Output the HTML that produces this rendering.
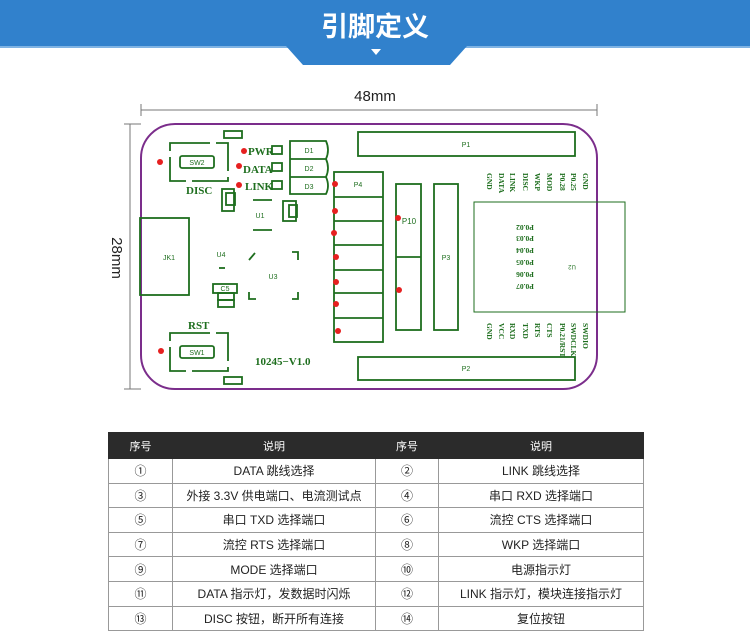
<!DOCTYPE html>
<html><head><meta charset="utf-8"><style>
body{margin:0;width:750px;height:639px;background:#fff;overflow:hidden;font-family:"Liberation Sans","Noto Sans CJK SC",sans-serif}
table{position:absolute;left:108px;top:432px;border-collapse:collapse;font-size:12px;color:#222}
td,th{border:1px solid #999;text-align:center;padding:0;height:23.6px}
th{background:#2b2b2b;color:#fff;font-weight:normal;font-size:11px;height:25px;border-color:#2b2b2b}
</style></head><body>
<svg width="750" height="430" style="position:absolute;left:0;top:0" font-family="Liberation Serif,serif">
<rect x="0" y="0" width="750" height="47" fill="#3181cc"/>
<rect x="0" y="46" width="750" height="2" fill="#7fb3e3"/>
<polygon points="286,46 467,46 450,65 303,65" fill="#3181cc"/>
<text x="375" y="36" text-anchor="middle" fill="#fff" font-size="27" font-weight="bold" font-family="Liberation Sans,Noto Sans CJK SC,sans-serif">引脚定义</text>
<polygon points="371,49 381,49 376,55" fill="#fff"/>
<text x="375" y="101" text-anchor="middle" font-size="15" font-family="Liberation Sans,sans-serif" fill="#222">48mm</text>
<g stroke="#777" stroke-width="1" fill="none">
<line x1="141" y1="110" x2="597" y2="110"/><line x1="141" y1="104" x2="141" y2="116"/><line x1="597" y1="104" x2="597" y2="116"/>
<line x1="130" y1="124" x2="130" y2="389"/><line x1="124" y1="124" x2="141" y2="124"/><line x1="124" y1="389" x2="141" y2="389"/>
</g>
<text transform="translate(112,258) rotate(90)" text-anchor="middle" font-size="15" font-family="Liberation Sans,sans-serif" fill="#222">28mm</text>
<rect x="141" y="124" width="456" height="265" rx="34" fill="none" stroke="#7b2d8b" stroke-width="2"/>
<g stroke="#1e6e1e" stroke-width="1.8" fill="none">
<rect x="224" y="131" width="18" height="7"/><rect x="224" y="377" width="18" height="7"/>
<path d="M170 143 H228 V181 H170 Z" stroke-dasharray="40 6"/>
<rect x="180" y="156" width="34" height="12" rx="2"/>
<path d="M170 333 H228 V371 H170 Z" stroke-dasharray="40 6"/>
<rect x="180" y="346" width="34" height="12" rx="2"/>
<rect x="272" y="146" width="10" height="8"/><rect x="272" y="163" width="10" height="8"/><rect x="272" y="181" width="10" height="8"/>
<path d="M290 141 H326 Q330 150 326 159 H290 Z M290 159 H326 Q330 168 326 177 H290 Z M290 177 H326 Q330 186 326 194 H290 Z"/>
<rect x="222" y="189" width="12" height="22"/><rect x="226" y="193" width="9" height="12"/>
<line x1="253" y1="200" x2="272" y2="200"/><line x1="253" y1="230" x2="272" y2="230"/>
<rect x="283" y="201" width="13" height="20"/><rect x="289" y="205" width="8" height="12"/>
<rect x="140" y="218" width="49" height="77"/>
<line x1="219" y1="268" x2="225" y2="268"/>
<path d="M249 260 L255 253 M292 252 H298 V260 M249 292 V299 H256 M292 299 H298 V292"/>
<rect x="213" y="284" width="24" height="9"/><rect x="218" y="293" width="16" height="7"/><rect x="218" y="300" width="16" height="7"/>
<rect x="334" y="172" width="49" height="170"/>
<path d="M334 197 H383 M334 221 H383 M334 245 H383 M334 270 H383 M334 293 H383 M334 318 H383"/>
<rect x="396" y="184" width="25" height="146"/><line x1="396" y1="257" x2="421" y2="257"/>
<rect x="434" y="184" width="24" height="146"/>
<rect x="358" y="132" width="217" height="24"/><rect x="358" y="357" width="217" height="23"/>
<rect x="474" y="202" width="151" height="110" stroke-width="1"/>
</g>
<g fill="#1e6e1e" font-size="7" font-family="Liberation Sans,sans-serif" text-anchor="middle">
<text x="197" y="165">SW2</text><text x="197" y="355">SW1</text><text x="169" y="260">JK1</text>
<text x="260" y="218">U1</text><text x="221" y="257">U4</text><text x="273" y="279">U3</text><text x="225" y="291">C5</text>
<text x="309" y="153">D1</text><text x="309" y="171">D2</text><text x="309" y="189">D3</text>
<text x="358" y="187">P4</text><text x="409" y="224" font-size="8">P10</text><text x="446" y="260">P3</text>
<text x="466" y="147">P1</text><text x="466" y="371">P2</text>
<text transform="translate(572,265) rotate(180)" font-size="6">U2</text>
</g>
<g fill="#1e6e1e" font-size="11" font-weight="bold" font-family="Liberation Serif,serif">
<text x="186" y="194">DISC</text><text x="188" y="329">RST</text>
<text x="248" y="155">PWR</text><text x="243" y="173">DATA</text><text x="245" y="190">LINK</text>
<text x="255" y="365">10245−V1.0</text>
</g>
<g fill="#1e6e1e" font-size="7.5" font-weight="bold" font-family="Liberation Serif,serif">
<text transform="translate(487,173) rotate(90)">GND</text><text transform="translate(499,173) rotate(90)">DATA</text>
<text transform="translate(510,173) rotate(90)">LINK</text><text transform="translate(523,173) rotate(90)">DISC</text>
<text transform="translate(535,173) rotate(90)">WKP</text><text transform="translate(547,173) rotate(90)">MOD</text>
<text transform="translate(560,173) rotate(90)">P0.28</text><text transform="translate(571,173) rotate(90)">P0.25</text>
<text transform="translate(583,173) rotate(90)">GND</text>
<text transform="translate(487,323) rotate(90)">GND</text><text transform="translate(499,323) rotate(90)">VCC</text>
<text transform="translate(510,323) rotate(90)">RXD</text><text transform="translate(523,323) rotate(90)">TXD</text>
<text transform="translate(535,323) rotate(90)">RTS</text><text transform="translate(547,323) rotate(90)">CTS</text>
<text transform="translate(560,323) rotate(90)">P0.21/RST</text><text transform="translate(571,323) rotate(90)">SWDCLK</text>
<text transform="translate(583,323) rotate(90)">SWDIO</text>
<g text-anchor="middle">
<text transform="translate(525,225) rotate(180)">P0.02</text><text transform="translate(525,236) rotate(180)">P0.03</text>
<text transform="translate(525,248) rotate(180)">P0.04</text><text transform="translate(525,260) rotate(180)">P0.05</text>
<text transform="translate(525,272) rotate(180)">P0.06</text><text transform="translate(525,284) rotate(180)">P0.07</text>
</g></g>
<g fill="#e62020">
<circle cx="160" cy="162" r="3"/><circle cx="161" cy="351" r="3"/>
<circle cx="244" cy="151" r="3"/><circle cx="239" cy="166" r="3"/><circle cx="239" cy="185" r="3"/>
<circle cx="335" cy="184" r="3"/><circle cx="335" cy="211" r="3"/><circle cx="334" cy="233" r="3"/>
<circle cx="336" cy="257" r="3"/><circle cx="336" cy="282" r="3"/><circle cx="336" cy="304" r="3"/><circle cx="338" cy="331" r="3"/>
<circle cx="398" cy="218" r="3"/><circle cx="399" cy="290" r="3"/>
</g>
</svg>
<table>
<tr><th style="width:63px">序号</th><th style="width:202px">说明</th><th style="width:62px">序号</th><th style="width:204px">说明</th></tr>
<tr><td>①</td><td>DATA 跳线选择</td><td>②</td><td>LINK 跳线选择</td></tr>
<tr><td>③</td><td>外接 3.3V 供电端口、电流测试点</td><td>④</td><td>串口 RXD 选择端口</td></tr>
<tr><td>⑤</td><td>串口 TXD 选择端口</td><td>⑥</td><td>流控 CTS 选择端口</td></tr>
<tr><td>⑦</td><td>流控 RTS 选择端口</td><td>⑧</td><td>WKP 选择端口</td></tr>
<tr><td>⑨</td><td>MODE 选择端口</td><td>⑩</td><td>电源指示灯</td></tr>
<tr><td>⑪</td><td>DATA 指示灯，发数据时闪烁</td><td>⑫</td><td>LINK 指示灯，模块连接指示灯</td></tr>
<tr><td>⑬</td><td>DISC 按钮，断开所有连接</td><td>⑭</td><td>复位按钮</td></tr>
</table>
</body></html>
